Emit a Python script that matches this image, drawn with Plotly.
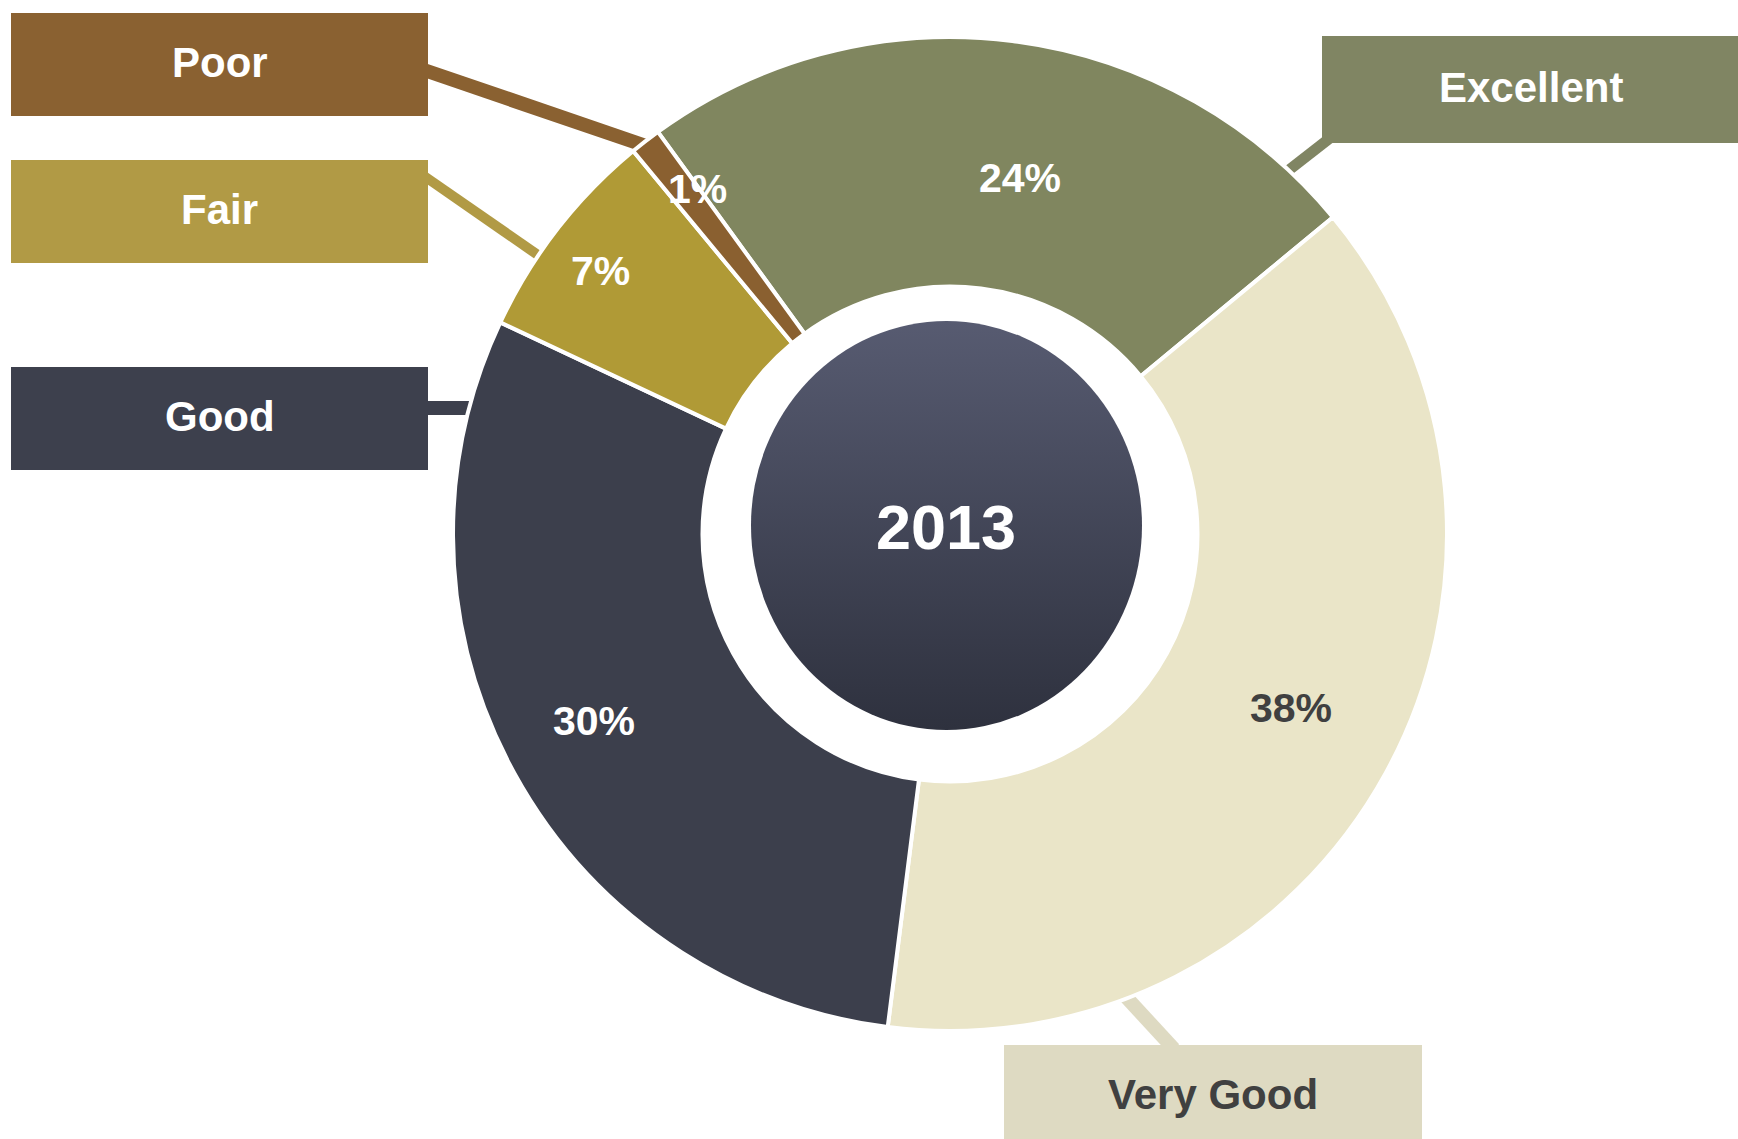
import math, base64
import plotly.graph_objects as go

# ---------------- data ----------------
categories = ["Excellent", "Very Good", "Good", "Fair", "Poor"]
percentages = [24, 38, 30, 7, 1]
center_label = "2013"

# ---------------- styles ----------------
slice_colors = ["#80865F", "#EAE5C8", "#3C3F4C", "#B09A36", "#8A6030"]
box_colors = ["#808563", "#DEDAC2", "#3D404D", "#B19A45", "#8A6131"]
pct_text_colors = ["#FFFFFF", "#404040", "#FFFFFF", "#FFFFFF", "#FFFFFF"]
box_text_colors = ["#FFFFFF", "#404040", "#FFFFFF", "#FFFFFF", "#FFFFFF"]
FONT = "Liberation Sans, Arial, Helvetica, sans-serif"

W, H = 1738, 1139
CX, CY, R = 950, 534, 497          # donut centre / outer radius in pixels
HOLE = 0.498
ROTATION = -36

# label placement tweaks (radius fraction, angle offset in degrees)
label_r = [0.73, 0.77, 0.81, 0.88, 0.86]
label_dang = [4.0, -1.8, 1.1, -0.8, 1.6]

# label boxes in pixels: x0, y0, x1, y1
boxes = {
    "Excellent": (1322, 36, 1740, 143),
    "Very Good": (1004, 1045, 1422, 1148),
    "Good": (11, 367, 428, 470),
    "Fair": (11, 160, 428, 263),
    "Poor": (11, 13, 428, 116),
}
# leader lines in pixels: x0, y0, x1, y1, width
leaders = {
    "Excellent": (1280, 177, 1330, 138, 11),
    "Very Good": (1115, 985, 1174, 1049, 14),
    "Good": (424, 408, 490, 408, 14),
    "Fair": (424, 176, 548, 262, 10),
    "Poor": (424, 70, 652, 148, 14),
}


def px(x):
    return x / W


def py(y):
    return 1 - y / H


fig = go.Figure()
fig.add_trace(go.Pie(
    labels=categories,
    values=percentages,
    sort=False,
    direction="clockwise",
    rotation=ROTATION,
    hole=HOLE,
    textinfo="none",
    marker=dict(colors=slice_colors, line=dict(color="#FFFFFF", width=4)),
    domain=dict(x=[px(CX - R), px(CX + R)], y=[py(CY + R), py(CY - R)]),
    showlegend=False,
))

shapes = []
annotations = []

# leader lines (below the pie)
for cat, col in zip(categories, box_colors):
    x0, y0, x1, y1, lw = leaders[cat]
    shapes.append(dict(type="line", xref="paper", yref="paper", layer="below",
                       x0=px(x0), y0=py(y0), x1=px(x1), y1=py(y1),
                       line=dict(color=col, width=lw)))

# label boxes and their text
for cat, col, tcol in zip(categories, box_colors, box_text_colors):
    x0, y0, x1, y1 = boxes[cat]
    shapes.append(dict(type="rect", xref="paper", yref="paper", layer="above",
                       x0=px(x0), y0=py(y1), x1=px(x1), y1=py(y0),
                       fillcolor=col, line=dict(width=0)))
    annotations.append(dict(xref="paper", yref="paper",
                            x=px((x0 + x1) / 2), y=py((y0 + y1) / 2 - 2),
                            text="<b>%s</b>" % cat, showarrow=False,
                            font=dict(family=FONT, size=42, color=tcol),
                            xanchor="center", yanchor="middle"))

# percentage labels positioned from data
total = sum(percentages)
cum = 0
for i, (v, tcol) in enumerate(zip(percentages, pct_text_colors)):
    mid = ROTATION + (cum + v / 2) / total * 360 + label_dang[i]
    cum += v
    r = R * label_r[i]
    x = CX + r * math.sin(math.radians(mid))
    y = CY - r * math.cos(math.radians(mid))
    annotations.append(dict(xref="paper", yref="paper", x=px(x), y=py(y),
                            text="<b>%d%%</b>" % v, showarrow=False,
                            font=dict(family=FONT, size=41, color=tcol),
                            xanchor="center", yanchor="middle"))

# central gradient disc
EX0, EY0, EX1, EY1 = 751, 321, 1142, 730
svg = ('<svg xmlns="http://www.w3.org/2000/svg" width="391" height="409" viewBox="0 0 391 409">'
       '<defs><linearGradient id="g" x1="0" y1="0" x2="0" y2="1">'
       '<stop offset="0" stop-color="#575B71"/><stop offset="1" stop-color="#2E313E"/>'
       '</linearGradient></defs>'
       '<ellipse cx="195.5" cy="204.5" rx="195.5" ry="204.5" fill="url(#g)"/></svg>')
src = "data:image/svg+xml;base64," + base64.b64encode(svg.encode()).decode()
images = [dict(source=src, xref="paper", yref="paper", x=px(EX0), y=py(EY0),
               sizex=(EX1 - EX0) / W, sizey=(EY1 - EY0) / H, sizing="stretch",
               xanchor="left", yanchor="top", layer="above")]

annotations.append(dict(xref="paper", yref="paper", x=px(946), y=py(527),
                        text="<b>%s</b>" % center_label, showarrow=False,
                        font=dict(family=FONT, size=63, color="#FFFFFF"),
                        xanchor="center", yanchor="middle"))

fig.update_layout(
    width=W, height=H,
    margin=dict(l=0, r=0, t=0, b=0),
    paper_bgcolor="#FFFFFF", plot_bgcolor="#FFFFFF",
    shapes=shapes, annotations=annotations, images=images,
    showlegend=False,
)

fig.write_html("out.html")
